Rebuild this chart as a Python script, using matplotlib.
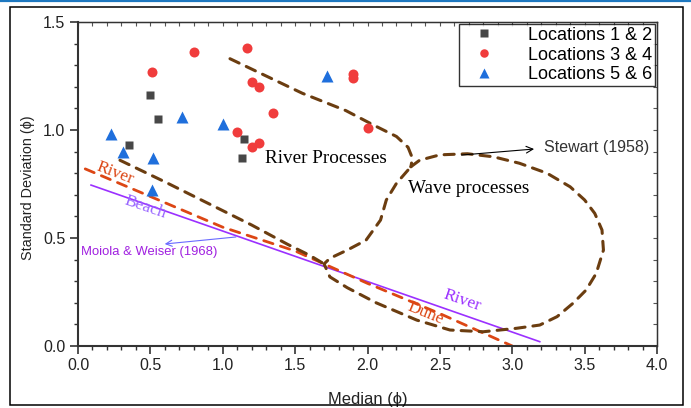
import matplotlib
matplotlib.use("Agg")
import matplotlib.pyplot as plt
from matplotlib.lines import Line2D
from matplotlib.patches import Rectangle
from matplotlib.ticker import MultipleLocator

# ---------------- data ----------------
loc12_x = [0.35, 0.50, 0.55, 1.15, 1.13]
loc12_y = [0.93, 1.16, 1.05, 0.96, 0.87]

loc34_x = [0.51, 0.80, 1.17, 1.20, 1.25, 1.35, 1.10, 1.20, 1.25, 1.90, 1.90, 2.00]
loc34_y = [1.27, 1.36, 1.38, 1.22, 1.20, 1.08, 0.99, 0.92, 0.94, 1.26, 1.24, 1.01]

loc56_x = [0.23, 0.31, 0.52, 0.51, 0.72, 1.00, 1.72]
loc56_y = [0.98, 0.90, 0.87, 0.72, 1.06, 1.03, 1.25]

# Moiola & Weiser (1968) beach/river line
mw_x = [0.09, 3.19]
mw_y = [0.745, 0.02]

# river / dune dashed line
dune_x = [0.05, 1.0, 1.5, 2.0, 2.5, 3.0]
dune_y = [0.82, 0.55, 0.44, 0.29, 0.15, 0.0]

# Stewart (1958) boundaries
river_upper_x = [1.05, 1.30, 1.55, 1.85, 2.05, 2.20, 2.28, 2.31, 2.30]
river_upper_y = [1.33, 1.25, 1.17, 1.09, 1.02, 0.97, 0.92, 0.87, 0.83]

river_lower_x = [0.29, 0.60, 0.90, 1.20, 1.45, 1.60, 1.70]
river_lower_y = [0.86, 0.76, 0.66, 0.56, 0.47, 0.42, 0.38]

wave_x = [2.30, 2.36, 2.50, 2.69, 2.87, 3.05, 3.24, 3.40, 3.50, 3.57, 3.62, 3.63,
          3.58, 3.51, 3.42, 3.31, 3.19, 3.03, 2.80, 2.57, 2.34, 2.06, 1.86, 1.74,
          1.70, 1.74, 1.86, 1.99, 2.09, 2.13, 2.20, 2.30]
wave_y = [0.83, 0.86, 0.885, 0.89, 0.876, 0.846, 0.80, 0.737, 0.676, 0.614, 0.537, 0.444,
          0.336, 0.259, 0.198, 0.136, 0.097, 0.082, 0.066, 0.074, 0.12, 0.20, 0.27, 0.32,
          0.38, 0.406, 0.444, 0.49, 0.583, 0.676, 0.753, 0.83]

legend_labels = ["Locations 1 & 2", "Locations 3 & 4", "Locations 5 & 6"]
x_ticks = [0.0, 0.5, 1.0, 1.5, 2.0, 2.5, 3.0, 3.5, 4.0]
y_ticks = [0.0, 0.5, 1.0, 1.5]

# ---------------- style ----------------
SANS = ["Liberation Sans", "DejaVu Sans"]
SERIF = ["Liberation Serif", "DejaVu Serif"]
plt.rcParams["font.family"] = SANS

c_sq = "#474747"
c_ci = "#f03c3c"
c_tr = "#1f6fdc"
c_brown = "#6b3d10"
c_red = "#dc4614"
c_purple = "#9b30ff"

fig = plt.figure(figsize=(6.91, 4.08), dpi=100)
W, H = 691, 408
ax = fig.add_axes([78 / W, 62 / H, 579 / W, 324 / H])

# outer frame and top blue rule
fig.add_artist(Rectangle((10 / W, 3 / H), 673 / W, 398 / H, transform=fig.transFigure,
                         fill=False, edgecolor="black", linewidth=1.1))
fig.add_artist(Line2D([0, 1], [1 - 0.8 / H, 1 - 0.8 / H], transform=fig.transFigure,
                      color="#1e78c0", linewidth=1.6))

# lines
dash_kw = dict(dash_capstyle="round", solid_capstyle="round")
ax.plot(mw_x, mw_y, color=c_purple, lw=1.2, zorder=2)
ax.plot(dune_x, dune_y, color=c_red, lw=2.0, dashes=(3.5, 2.8), **dash_kw, zorder=2)
ax.plot(river_upper_x, river_upper_y, color=c_brown, lw=2.2, dashes=(3.3, 2.6), **dash_kw, zorder=2)
ax.plot(river_lower_x, river_lower_y, color=c_brown, lw=2.2, dashes=(3.3, 2.6), **dash_kw, zorder=2)
ax.plot(wave_x, wave_y, color=c_brown, lw=2.2, dashes=(3.3, 2.6), **dash_kw, zorder=2)

# markers
h1, = ax.plot(loc12_x, loc12_y, "s", color=c_sq, ms=6.2, mec="none", ls="none", zorder=3)
h2, = ax.plot(loc34_x, loc34_y, "o", color=c_ci, ms=7.2, mec="none", ls="none", zorder=3)
h3, = ax.plot(loc56_x, loc56_y, "^", color=c_tr, ms=8.2, mec="none", ls="none", zorder=3)

leg = ax.legend([h1, h2, h3], legend_labels, loc="upper right", prop={"family": SANS, "size": 13},
                markerscale=0.85, frameon=True, fancybox=False, edgecolor="black",
                borderaxespad=0.11, handletextpad=1.19, labelspacing=0.16, borderpad=0.15,
                handlelength=2.47)
leg.get_frame().set_linewidth(1.0)

# texts
ax.text(1.29, 0.87, "River Processes", family=SERIF, fontsize=13.8, color="black",
        ha="left", va="center")
ax.text(2.28, 0.727, "Wave processes", family=SERIF, fontsize=13.8, color="black",
        ha="left", va="center")
ax.text(3.22, 0.918, "Stewart (1958)", family=SANS, fontsize=11.5, color="#333333",
        ha="left", va="center")
ax.annotate("", xy=(3.17, 0.913), xytext=(2.63, 0.883),
            arrowprops=dict(arrowstyle="->", color="black", lw=0.8, mutation_scale=12))
ax.text(0.02, 0.437, "Moiola & Weiser (1968)", family=SANS, fontsize=9.4, color="#a020e0",
        ha="left", va="center")
ax.annotate("", xy=(0.58, 0.471), xytext=(1.11, 0.506),
            arrowprops=dict(arrowstyle="->", color="#6a6aff", lw=0.8, mutation_scale=11))
ax.text(0.256, 0.800, "River", family=SERIF, fontsize=12.5, color=c_red,
        ha="center", va="center", rotation=-21)
ax.text(0.463, 0.640, "Beach", family=SERIF, fontsize=12.5, color="#9966ff",
        ha="center", va="center", rotation=-19)
ax.text(2.65, 0.212, "River", family=SERIF, fontsize=12.5, color=c_purple,
        ha="center", va="center", rotation=-19)
ax.text(2.40, 0.152, "Dune", family=SERIF, fontsize=12.5, color=c_red,
        ha="center", va="center", rotation=-22)

# axes
ax.set_xlim(0, 4.0)
ax.set_ylim(0, 1.5)
ax.set_xticks(x_ticks)
ax.set_yticks(y_ticks)
ax.set_xticklabels([f"{v:.1f}" for v in x_ticks])
ax.set_yticklabels([f"{v:.1f}" for v in y_ticks])
ax.xaxis.set_minor_locator(MultipleLocator(0.1))
ax.yaxis.set_minor_locator(MultipleLocator(0.1))
ax.tick_params(which="major", direction="out", length=6, width=1.2, labelsize=11.5,
               colors="#333333", labelcolor="#222222", pad=3)
ax.tick_params(which="minor", direction="out", length=3, width=1.0, colors="#333333")
for s in ["left", "bottom"]:
    ax.spines[s].set_linewidth(1.5)
    ax.spines[s].set_color("#333333")
for s in ["top", "right"]:
    ax.spines[s].set_linewidth(1.0)
    ax.spines[s].set_color("#333333")

# top/right ticks point inward
sec_x = ax.secondary_xaxis("top")
sec_x.set_xticks(x_ticks)
sec_x.xaxis.set_minor_locator(MultipleLocator(0.1))
sec_x.tick_params(which="both", direction="in", labeltop=False, colors="#555555", length=3, width=0.8)
sec_y = ax.secondary_yaxis("right")
sec_y.set_yticks(y_ticks)
sec_y.yaxis.set_minor_locator(MultipleLocator(0.1))
sec_y.tick_params(which="both", direction="in", labelright=False, colors="#555555", length=3, width=0.8)
ax.tick_params(which="both", top=False, right=False)

ax.set_xlabel("Median (ϕ)", fontsize=11.9, color="#222222")
ax.set_ylabel("Standard Deviation (ϕ)", fontsize=10.4, color="#222222")
ax.xaxis.set_label_coords(0.5, -0.142)
ax.yaxis.set_label_coords(-0.074, 0.49)

fig.savefig("out.png", dpi=100)
